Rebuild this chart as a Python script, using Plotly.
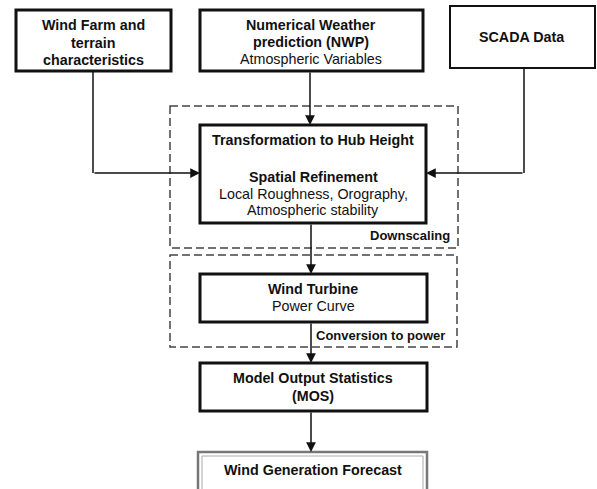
import plotly.graph_objects as go

# ---- content (labels) ----
wind_farm_lines = ["Wind Farm and", "terrain", "characteristics"]
nwp_lines = ["Numerical Weather", "prediction (NWP)", "Atmospheric Variables"]
nwp_bold = [True, True, False]
scada_lines = ["SCADA Data"]
transform_lines = ["Transformation to Hub Height", "Spatial Refinement",
                   "Local Roughness, Orography,", "Atmospheric stability"]
transform_bold = [True, True, False, False]
turbine_lines = ["Wind Turbine", "Power Curve"]
turbine_bold = [True, False]
mos_lines = ["Model Output Statistics", "(MOS)"]
forecast_lines = ["Wind Generation Forecast"]
group_labels = ["Downscaling", "Conversion to power"]

W, H = 597, 489
FONT = "Liberation Sans, Arial, sans-serif"
FS = 14.3

fig = go.Figure()
shapes = []
annotations = []

def rect(x0, y0, x1, y1, w=3, color="#111", dash=None):
    line = dict(color=color, width=w)
    if dash:
        line["dash"] = dash
    shapes.append(dict(type="rect", xref="x", yref="y", x0=x0, y0=y0, x1=x1, y1=y1,
                       line=line, fillcolor="rgba(0,0,0,0)", layer="above"))

def text(s, x, y, bold=True, xanchor="center", size=FS):
    annotations.append(dict(x=x, y=y, xref="x", yref="y", showarrow=False,
                            text=("<b>%s</b>" % s) if bold else s,
                            xanchor=xanchor, yanchor="middle",
                            font=dict(family=FONT, size=size, color="#111")))

def seg(x0, y0, x1, y1):
    shapes.append(dict(type="line", xref="x", yref="y", x0=x0, y0=y0, x1=x1, y1=y1,
                       line=dict(color="#111", width=1.5)))

def arrow(ax, ay, x, y):
    annotations.append(dict(x=x, y=y, ax=ax, ay=ay, xref="x", yref="y", axref="x", ayref="y",
                            showarrow=True, arrowhead=2, arrowsize=1.3, arrowwidth=1.5,
                            arrowcolor="#111", text="", standoff=0))

# dashed groups
rect(170, 106, 458, 248, w=1.5, color="#444", dash="8px,4px")
rect(170, 255, 457, 347, w=1.5, color="#444", dash="8px,4px")

# boxes
rect(16, 10, 171, 71, w=3)
rect(200, 10, 423, 71, w=3)
rect(450, 6, 595, 68, w=2)
rect(200, 125, 426, 223, w=3)
rect(200, 274, 427, 322, w=3)
rect(200, 363, 427, 411, w=3)
rect(198, 452, 427, 495, w=2.5, color="#777")
rect(202, 456, 423, 495, w=1, color="#aaa")

# texts
for i, s in enumerate(wind_farm_lines):
    text(s, 93, 25 + 17.5 * i, True)
for i, s in enumerate(nwp_lines):
    text(s, 311, 25 + 17 * i, nwp_bold[i])
text(scada_lines[0], 522, 37, True)
ys_t = [140, 177, 193.5, 210]
for i, s in enumerate(transform_lines):
    text(s, 313, ys_t[i], transform_bold[i])
for i, s in enumerate(turbine_lines):
    text(s, 313, 289 + 17 * i, turbine_bold[i])
for i, s in enumerate(mos_lines):
    text(s, 313, 378 + 17.5 * i, True)
text(forecast_lines[0], 313, 470, True)
text(group_labels[0], 452, 235, True, xanchor="right", size=13)
text(group_labels[1], 314, 335, True, xanchor="left", size=13)

# connectors
arrow(310, 71, 310, 125)
seg(93, 71, 93, 173)
arrow(93, 173, 200, 173)
seg(524, 68, 524, 173)
arrow(524, 173, 426, 173)
arrow(311, 223, 311, 274)
arrow(311, 322, 311, 363)
arrow(311, 411, 311, 452)

fig.update_layout(
    width=W, height=H, margin=dict(l=0, r=0, t=0, b=0),
    paper_bgcolor="white", plot_bgcolor="white",
    xaxis=dict(range=[0, W], visible=False, fixedrange=True),
    yaxis=dict(range=[H, 0], visible=False, fixedrange=True),
    shapes=shapes, annotations=annotations, showlegend=False,
)
fig.write_html(
    "out.html",
    config={"displayModeBar": False},
    post_script="document.body.style.margin='0';document.body.style.overflow='hidden';",
)
